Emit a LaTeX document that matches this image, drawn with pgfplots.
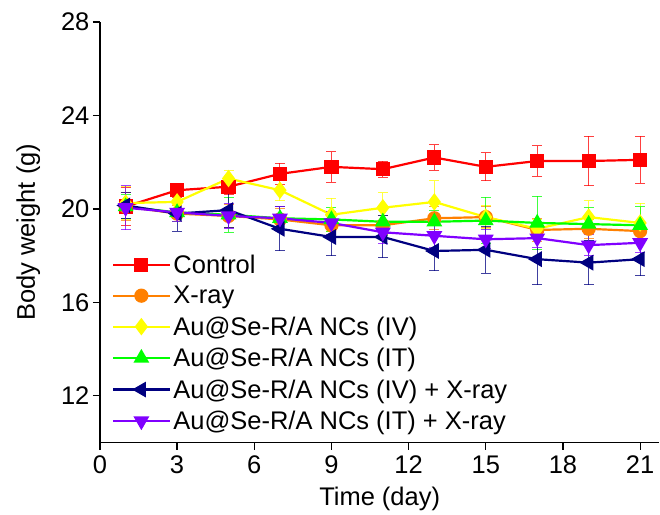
\documentclass[border=0pt]{standalone}
\usepackage{pgfplots}
\pgfplotsset{compat=1.18}
\usepackage{pgfplotstable}
\usepackage{fontspec}
\setmainfont{Liberation Sans}

\definecolor{cctrl}{RGB}{255,0,0}
\definecolor{cxray}{RGB}{255,128,0}
\definecolor{civ}{RGB}{255,255,0}
\definecolor{cit}{RGB}{0,255,0}
\definecolor{civx}{RGB}{0,0,128}
\definecolor{citx}{RGB}{128,0,255}

% day, mean body weight (g), sd
\pgfplotstableread{
d w e
1 20.1 0.8
3 20.8 0.3
5 20.95 0.35
7 21.5 0.45
9 21.8 0.65
11 21.7 0.35
13 22.2 0.55
15 21.8 0.6
17 22.05 0.65
19 22.05 1.05
21 22.1 1.0
}\tctrl
\pgfplotstableread{
d w e
1 20.1 0.6
3 19.8 0.35
5 19.7 0.5
7 19.55 0.45
9 19.3 0.5
11 19.3 0.4
13 19.6 0.5
15 19.65 0.45
17 19.1 0.5
19 19.15 0.4
21 19.05 0.4
}\txray
\pgfplotstableread{
d w e
1 20.25 0.7
3 20.3 0.4
5 21.3 0.35
7 20.8 0.45
9 19.75 0.7
11 20.05 0.65
13 20.3 0.9
15 19.65 0.5
17 19.15 0.4
19 19.65 0.7
21 19.4 0.85
}\tiv
\pgfplotstableread{
d w e
1 20.1 0.5
3 19.85 0.4
5 19.75 0.75
7 19.6 0.5
9 19.55 0.5
11 19.45 0.6
13 19.45 0.5
15 19.5 1.0
17 19.4 1.15
19 19.35 0.7
21 19.3 0.8
}\tit
\pgfplotstableread{
d w e
1 20.15 0.55
3 19.8 0.75
5 19.95 0.75
7 19.15 0.95
9 18.8 0.8
11 18.8 0.9
13 18.2 0.85
15 18.25 1.0
17 17.85 1.1
19 17.7 0.95
21 17.85 0.7
}\tivx
\pgfplotstableread{
d w e
1 20.05 0.95
3 19.85 0.4
5 19.7 0.55
7 19.6 0.5
9 19.4 0.5
11 19.0 0.5
13 18.85 0.5
15 18.7 0.4
17 18.75 0.4
19 18.45 0.45
21 18.55 0.4
}\titx

\begin{document}
\begin{tikzpicture}
\begin{axis}[
    scale only axis,
    width=560pt, height=421pt,
    xmin=0, xmax=21.75, ymin=10, ymax=28,
    axis lines*=left,
    axis line style={line width=1.2pt},
    tick align=outside,
    major tick length=7pt,
    tick style={line width=1.2pt, black},
    xtick={0,3,...,21}, ytick={12,16,...,28},
    /pgf/number format/assume math mode=true,
    tick label style={font=\fontsize{25.5}{30}\selectfont},
    xticklabel style={yshift=-3pt},
    label style={font=\fontsize{25.5}{30}\selectfont},
    xlabel={Time (day)}, ylabel={Body weight (g)},
    xlabel style={yshift=-6pt},
    ylabel style={yshift=14pt},
    every axis plot/.append style={line width=2.2pt, mark size=6pt},
    error bars/y dir=both, error bars/y explicit,
    error bars/error bar style={line width=1pt, opacity=0.75},
    error bars/error mark options={rotate=90, mark size=5pt, line width=1pt},
    legend style={draw=none, fill=none, at={(0.02,0.02)}, anchor=south west,
        font=\fontsize{25.5}{30}\selectfont, row sep=7.5pt, inner sep=1pt,
        /tikz/every even column/.append style={column sep=6pt}},
    legend cell align=left,
    legend image code/.code={%
        \draw[mark repeat=2, mark phase=2] plot coordinates {(0pt,0pt) (28pt,0pt) (57pt,0pt)};},
]
\addplot[color=cctrl, mark=square*] table[x=d, y=w, y error=e] {\tctrl};
\addplot[color=cxray, mark=*] table[x=d, y=w, y error=e] {\txray};
\addplot[color=civ, mark=diamond*, mark size=7pt] table[x=d, y=w, y error=e] {\tiv};
\addplot[color=cit, mark=triangle*, mark size=7pt] table[x=d, y=w, y error=e] {\tit};
\addplot[color=civx, mark=triangle*, mark size=7pt, mark options={rotate=90}] table[x=d, y=w, y error=e] {\tivx};
\addplot[color=citx, mark=triangle*, mark size=7pt, mark options={rotate=180}] table[x=d, y=w, y error=e] {\titx};
\legend{Control, X-ray, Au@Se-R/A NCs (IV), Au@Se-R/A NCs (IT), Au@Se-R/A NCs (IV) + X-ray, Au@Se-R/A NCs (IT) + X-ray}
\end{axis}
\path (current axis.south west) ++(-100pt,-69pt) (current axis.north east) ++(0pt,22pt);
\end{tikzpicture}
\end{document}
